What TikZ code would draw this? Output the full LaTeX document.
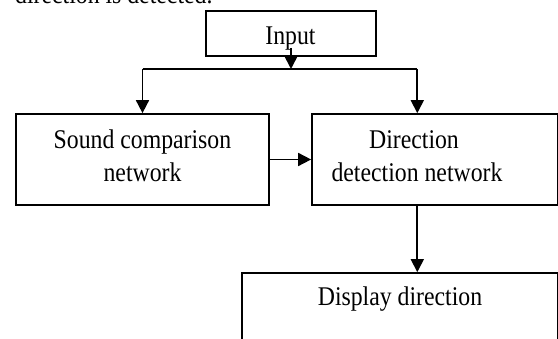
\documentclass[tikz,border=0pt]{standalone}
\usepackage{fontspec}
\setmainfont{Liberation Serif}[FakeStretch=0.88]
\usetikzlibrary{arrows.meta}
\begin{document}
\begin{tikzpicture}[x=1pt,y=-1pt,
  box/.style={draw,line width=1.7pt,rectangle,inner sep=0pt},
  lbl/.style={anchor=base,inner sep=0pt,font=\fontsize{27}{32}\selectfont},
  conn/.style={line width=1.7pt},
  arr/.style={conn,-{Triangle[width=13pt,length=13pt]}}]
\useasboundingbox (0,0) rectangle (558,339);
\clip (0,0) rectangle (558,339);
% clipped caption text at the top
\node[lbl,anchor=base west] (cap) at (15,4) {direction is detected.};
% boxes
\node[box,minimum width=170pt,minimum height=45pt] (input) at (291,33.5) {};
\node[box,minimum width=253pt,minimum height=91pt] (sound) at (142.5,159.5) {};
\node[box,minimum width=246pt,minimum height=91pt] (dir) at (435,159.5) {};
\node[box,minimum width=316pt,minimum height=110pt] (display) at (400,328) {};
% texts
\node[lbl] (tinput) at (290.5,44.3) {Input};
\node[lbl] (tsound1) at (142.5,148.3) {Sound comparison};
\node[lbl] (tsound2) at (142.5,181.5) {network};
\node[lbl] (tdir1) at (414,148.3) {Direction};
\node[lbl] (tdir2) at (417,181.5) {detection network};
\node[lbl] (tdisp) at (400,306) {Display direction};
% connectors
\coordinate (split) at (291,69);
\coordinate (jl) at (142.5,69);
\coordinate (jr) at (417.3,69);
\draw[arr] ([yshift=9pt]input.south) -- (split);
\draw[conn] (jl) -- (jr);
\draw[arr] (jl) -- (sound.north);
\draw[arr] (jr) -- (jr |- dir.north);
\draw[arr] (sound.east) -- (dir.west);
\draw[arr] (jr |- dir.south) -- (jr |- display.north);
\end{tikzpicture}
\end{document}
